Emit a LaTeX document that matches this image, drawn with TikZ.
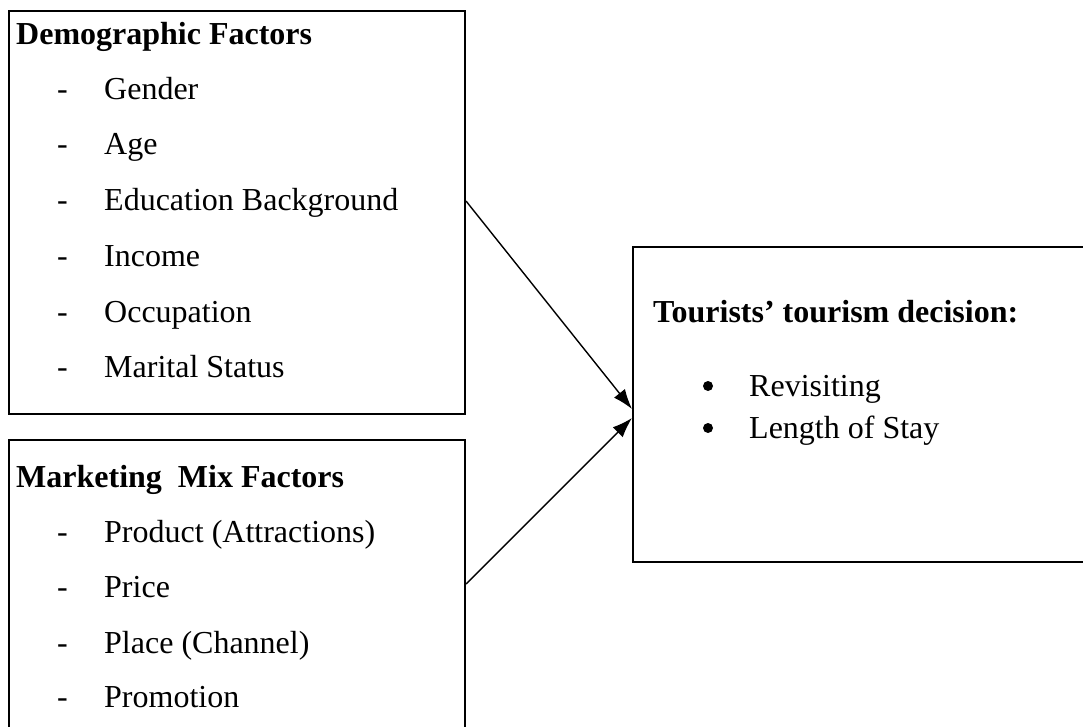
\documentclass[tikz,border=0pt]{standalone}
\usepackage{fontspec}
\setmainfont{Liberation Serif}
\usetikzlibrary{arrows.meta}
\begin{document}
\begin{tikzpicture}[x=1pt,y=-1pt,
  box/.style={draw=black, line width=2pt, fill=white, rectangle, inner sep=0pt, anchor=north west},
  txt/.style={anchor=base west, inner sep=0pt, font=\fontsize{32}{38}\selectfont},
  ttl/.style={txt, font=\fontsize{32}{38}\selectfont\bfseries},
  dsh/.style={txt},
  arr/.style={line width=1.4pt, -{Latex[length=20pt,width=14pt]}}]
\useasboundingbox (0,0) rectangle (1083,727);
\node[box, minimum width=456pt, minimum height=403pt] (b1) at (8,10) {};
\node[box, minimum width=456pt, minimum height=330pt] (b2) at (8,439) {};
\node[box, minimum width=480pt, minimum height=315pt] (b3) at (632,246) {};
% box 1
\node[ttl] (t1) at (16,45) {Demographic Factors};
\node[dsh] (d1) at (57,100) {-}; \node[txt] (i1) at (104,100) {Gender};
\node[dsh] (d2) at (57,155) {-}; \node[txt] (i2) at (104,155) {Age};
\node[dsh] (d3) at (57,211) {-}; \node[txt] (i3) at (104,211) {Education Background};
\node[dsh] (d4) at (57,266) {-}; \node[txt] (i4) at (104,266) {Income};
\node[dsh] (d5) at (57,322) {-}; \node[txt] (i5) at (104,322) {Occupation};
\node[dsh] (d6) at (57,377) {-}; \node[txt] (i6) at (104,377) {Marital Status};
% box 2
\node[ttl] (t2) at (16,487) {Marketing\ \ Mix Factors};
\node[dsh] (e1) at (57,542) {-}; \node[txt] (j1) at (104,542) {Product (Attractions)};
\node[dsh] (e2) at (57,597) {-}; \node[txt] (j2) at (104,597) {Price};
\node[dsh] (e3) at (57,653) {-}; \node[txt] (j3) at (104,653) {Place (Channel)};
\node[dsh] (e4) at (57,707) {-}; \node[txt] (j4) at (104,707) {Promotion};
% box 3
\node[ttl] (t3) at (653,322) {Tourists’ tourism decision:};
\node[circle, fill=black, inner sep=0pt, minimum size=10pt] (bu1) at (708,386) {};
\node[txt] (k1) at (749,396) {Revisiting};
\node[circle, fill=black, inner sep=0pt, minimum size=10pt] (bu2) at (708,428) {};
\node[txt] (k2) at (749,438) {Length of Stay};
% arrows
\draw[arr] ([yshift=-191pt]b1.north east) -- ([yshift=-163pt]b3.north west);
\draw[arr] ([yshift=-145pt]b2.north east) -- ([yshift=-172pt]b3.north west);
\end{tikzpicture}
\end{document}
